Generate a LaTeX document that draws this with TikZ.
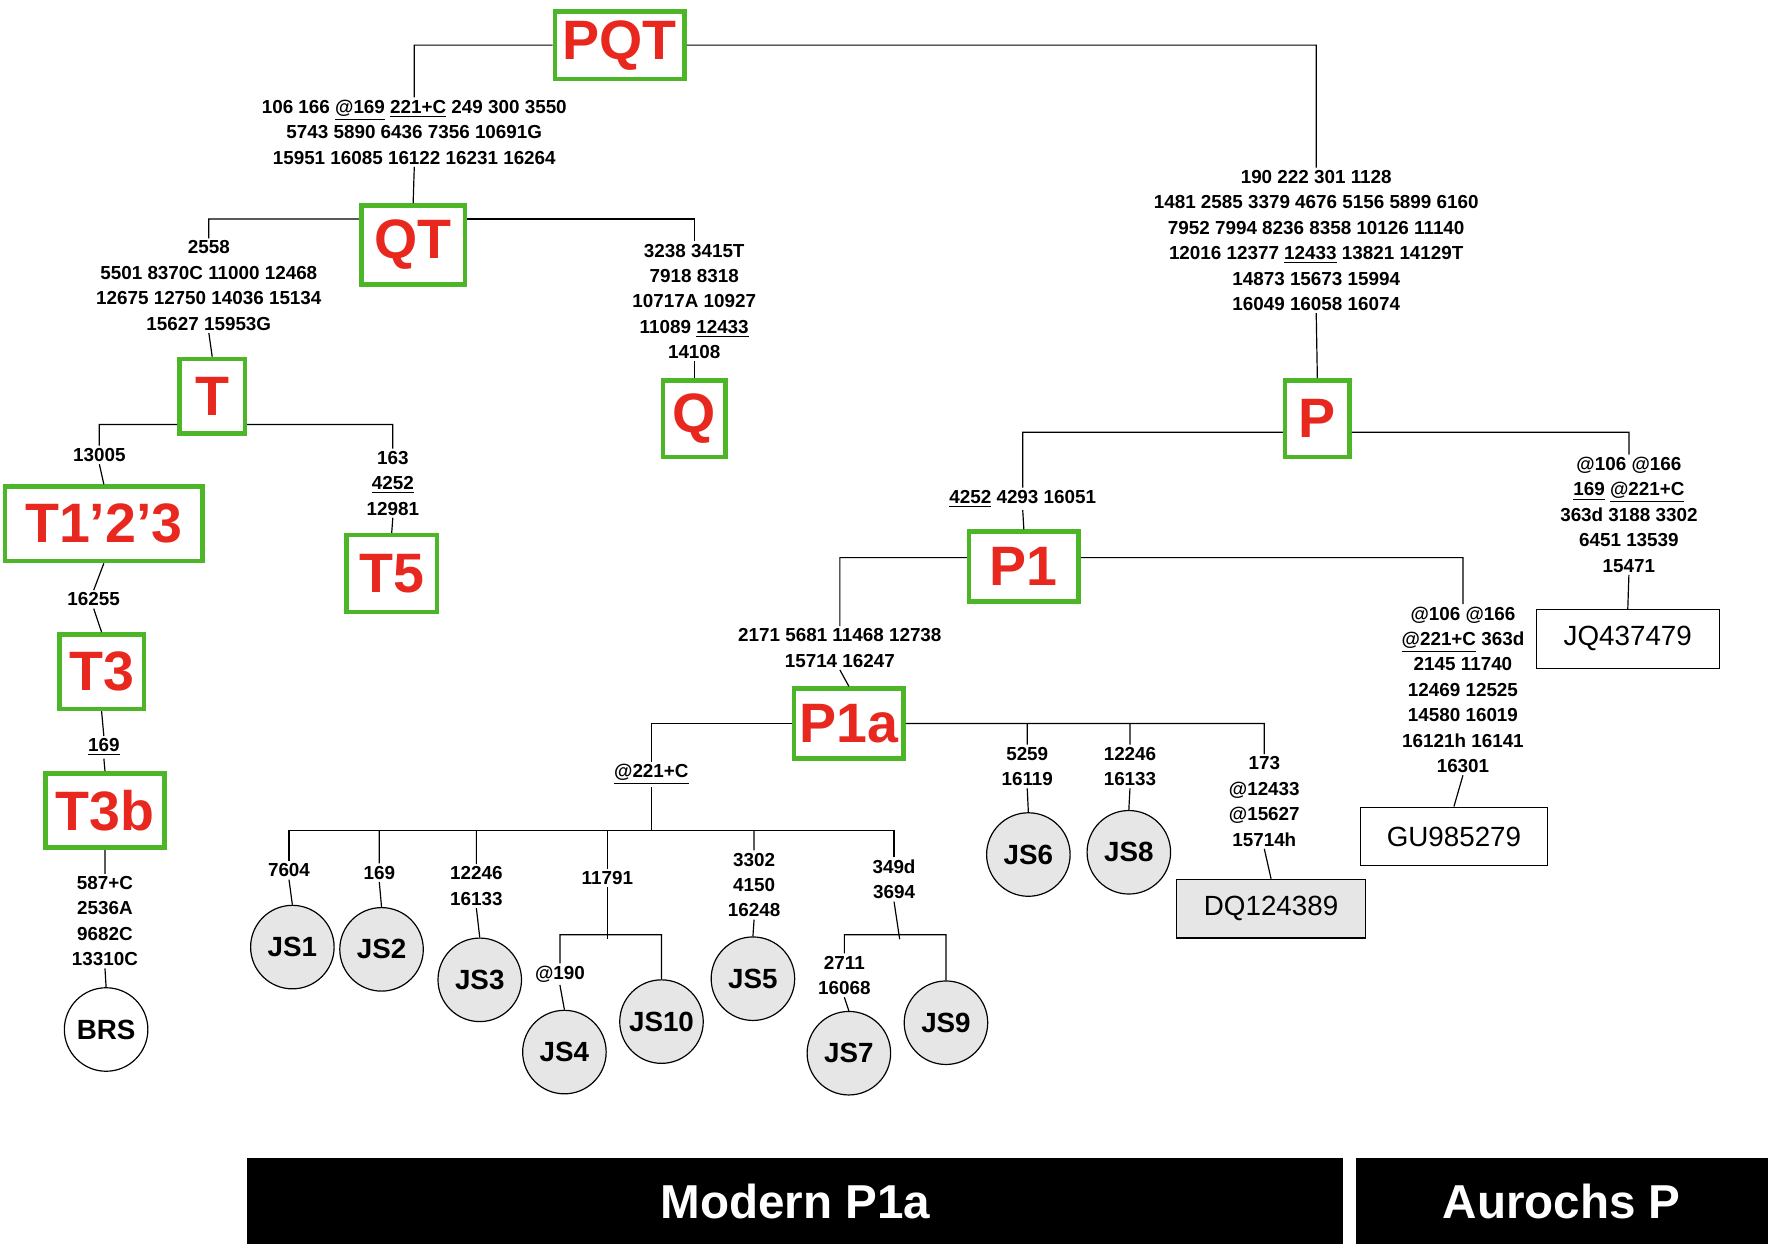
\documentclass[tikz,border=0pt]{standalone}
\usepackage{fontspec}
\setmainfont{Liberation Sans}
\usetikzlibrary{positioning}
\definecolor{hapgreen}{RGB}{76,181,40}
\definecolor{hapred}{RGB}{232,40,30}
\definecolor{jsgray}{RGB}{230,230,230}
\tikzset{
  hap/.style={draw=hapgreen, line width=2.3pt, fill=white, text=hapred, inner sep=0pt,
    font=\bfseries\fontsize{28}{30}\selectfont},
  mut/.style={align=center, inner sep=1pt, font=\bfseries\fontsize{9.5}{12.8}\selectfont},
  js/.style={circle, draw, fill=jsgray, minimum size=1.48cm, inner sep=0pt,
    font=\bfseries\fontsize{14}{16}\selectfont},
  acc/.style={draw, minimum height=1.04cm, inner sep=0pt, font=\fontsize{14}{16}\selectfont},
  bar/.style={fill=black, text=white, inner sep=0pt, font=\bfseries\fontsize{24}{26}\selectfont}
}
\begin{document}
\begin{tikzpicture}[x=0.02cm, y=-0.02cm, line width=0.6pt]
\useasboundingbox (0,0) rectangle (1568,1105);

% haplogroups
\node[hap, minimum width=2.3cm, minimum height=1.2cm] (PQT) at (549,40) {PQT};
\node[hap, minimum width=1.84cm, minimum height=1.4cm] (QT) at (366,217) {QT};
\node[hap, minimum width=1.1cm, minimum height=1.36cm] (Q) at (615,371) {Q};
\node[hap, minimum width=1.16cm, minimum height=1.32cm] (T) at (188,351) {T};
\node[hap, minimum width=3.5cm, minimum height=1.32cm] (T123) at (92,464) {T1’2’3};
\node[hap, minimum width=1.6cm, minimum height=1.36cm] (T5) at (347,508) {T5};
\node[hap, minimum width=1.5cm, minimum height=1.32cm] (T3) at (90,595) {T3};
\node[hap, minimum width=2.1cm, minimum height=1.32cm] (T3b) at (93,718) {T3b};
\node[hap, minimum width=1.14cm, minimum height=1.36cm] (P) at (1167,371) {P};
\node[hap, minimum width=1.94cm, minimum height=1.24cm] (P1) at (907,502) {P1};
\node[hap, minimum width=1.94cm, minimum height=1.24cm] (P1a) at (752,641) {P1a};

% mutations
\node[mut] (mPQT) at (367,117) {106 166 \underline{@169} \underline{221+C} 249 300 3550\\5743 5890 6436 7356 10691G\\15951 16085 16122 16231 16264};
\node[mut] (mP) at (1166,213) {190 222 301 1128\\1481 2585 3379 4676 5156 5899 6160\\7952 7994 8236 8358 10126 11140\\12016 12377 \underline{12433} 13821 14129T\\14873 15673 15994\\16049 16058 16074};
\node[mut] (mT) at (185,253) {2558\\5501 8370C 11000 12468\\12675 12750 14036 15134\\15627 15953G};
\node[mut] (mQ) at (615,267) {3238 3415T\\7918 8318\\10717A 10927\\11089 \underline{12433}\\14108};
\node[mut] (mT123) at (88,403) {13005};
\node[mut] (mT5) at (348,428) {163\\\underline{4252}\\12981};
\node[mut] (mT3) at (83,531) {16255};
\node[mut] (mT3b) at (92,662) {\underline{169}};
\node[mut] (mBRS) at (93,816) {587+C\\2536A\\9682C\\13310C};
\node[mut] (mP1) at (906,442) {\underline{4252} 4293 16051};
\node[mut] (mJQ) at (1443,456) {@106 @166\\\underline{169} \underline{@221+C}\\363d 3188 3302\\6451 13539\\15471};
\node[mut] (mP1a) at (744,574) {2171 5681 11468 12738\\15714 16247};
\node[mut] (mGU) at (1296,611) {@106 @166\\\underline{@221+C} 363d\\2145 11740\\12469 12525\\14580 16019\\16121h 16141\\16301};
\node[mut] (mJS6) at (910,679) {5259\\16119};
\node[mut] (mJS8) at (1001,679) {12246\\16133};
\node[mut] (mDQ) at (1120,710) {173\\@12433\\@15627\\15714h};
\node[mut] (mJS) at (577,686) {\underline{@221+C}};
\node[mut] (mJS1) at (256,771) {7604};
\node[mut] (mJS2) at (336,773) {169};
\node[mut] (mJS3) at (422,785) {12246\\16133};
\node[mut] (mJS410) at (538,778) {11791};
\node[mut] (mJS4) at (496,863) {@190};
\node[mut] (mJS5) at (668,784) {3302\\4150\\16248};
\node[mut] (mJS79) at (792,779) {349d\\3694};
\node[mut] (mJS7) at (748,864) {2711\\16068};

% samples
\node[circle, draw, fill=white, minimum size=1.48cm, inner sep=0pt,
  font=\bfseries\fontsize{14}{16}\selectfont] (BRS) at (94,912) {BRS};
\node[js] (JS1) at (259,839) {JS1};
\node[js] (JS2) at (338,841) {JS2};
\node[js] (JS3) at (425,868) {JS3};
\node[js] (JS4) at (500,932) {JS4};
\node[js] (JS10) at (586,905) {JS10};
\node[js] (JS5) at (667,867) {JS5};
\node[js] (JS7) at (752,933) {JS7};
\node[js] (JS9) at (838,906) {JS9};
\node[js] (JS6) at (911,757) {JS6};
\node[js] (JS8) at (1000,755) {JS8};
\node[acc, fill=white, minimum width=3.24cm] (JQ) at (1442,566) {JQ437479};
\node[acc, fill=white, minimum width=3.32cm] (GU) at (1288,741) {GU985279};
\node[acc, fill=jsgray, minimum width=3.36cm] (DQ) at (1126,805) {DQ124389};

% junctions
\coordinate (j) at (582,736);
\coordinate (k) at (538,828);
\coordinate (l) at (797,828);

% tree
\draw (PQT.west) -| (mPQT.north) (mPQT.south) -- (QT.north);
\draw (PQT.east) -| (mP.north) (mP.south) -- (P.north);
\draw ([yshift=0.46cm]QT.west) -| (mT.north) (mT.south) -- (T.north);
\draw ([yshift=0.46cm]QT.east) -| (mQ.north) (mQ.south) -- (Q.north);
\draw ([yshift=-0.5cm]T.west) -| (mT123.north) (mT123.south) -- (T123.north);
\draw ([yshift=-0.5cm]T.east) -| (mT5.north) (mT5.south) -- (T5.north);
\draw (T123.south) -- (mT3.north) (mT3.south) -- (T3.north);
\draw (T3.south) -- (mT3b.north) (mT3b.south) -- (T3b.north);
\draw (T3b.south) -- (mBRS.north) (mBRS.south) -- (BRS.north);
\draw ([yshift=-0.24cm]P.west) -| (mP1.north) (mP1.south) -- (P1.north);
\draw ([yshift=-0.24cm]P.east) -| (mJQ.north) (mJQ.south) -- (JQ.north);
\draw ([yshift=0.16cm]P1.west) -| (mP1a.north) (mP1a.south) -- (P1a.north);
\draw ([yshift=0.16cm]P1.east) -| (mGU.north) (mGU.south) -- (GU.north);
\draw (P1a.west) -| (mJS.north) (mJS.south) -- (mJS.south |- j);
\draw (P1a.east) -| (mDQ.north) (mDQ.south) -- (DQ.north);
\draw (P1a.east -| mJS6) -- (mJS6.north) (mJS6.south) -- (JS6.north);
\draw (P1a.east -| mJS8) -- (mJS8.north) (mJS8.south) -- (JS8.north);
\draw (mJS1.north) |- (j) -| (mJS79.north);
\draw (mJS1.south) -- (JS1.north);
\draw (mJS2.north) -- (mJS2.north |- j) (mJS2.south) -- (JS2.north);
\draw (mJS3.north) -- (mJS3.north |- j) (mJS3.south) -- (JS3.north);
\draw (mJS5.north) -- (mJS5.north |- j) (mJS5.south) -- (JS5.north);
\draw (mJS410.north) -- (mJS410.north |- j) (mJS410.south) -- ([yshift=-0.08cm]k);
\draw (mJS4.north) |- (k) -| (JS10.north) (mJS4.south) -- (JS4.north);
\draw (mJS79.south) -- ([yshift=-0.08cm]l);
\draw (mJS7.north) |- (l) -| (JS9.north) (mJS7.south) -- (JS7.north);

% bottom bars
\node[bar, minimum width=19.42cm, minimum height=1.52cm] (modern) at (704.5,1064) {Modern P1a};
\node[bar, minimum width=7.3cm, minimum height=1.52cm] (aurochs) at (1383.5,1064) {Aurochs P};
\end{tikzpicture}
\end{document}
